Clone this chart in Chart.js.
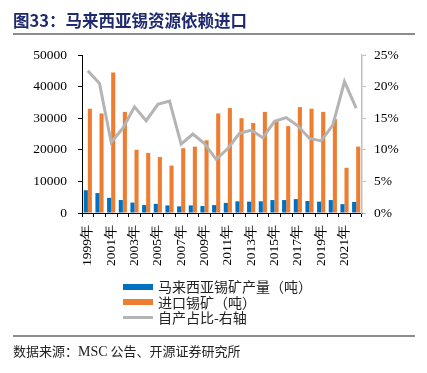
<!DOCTYPE html>
<html>
<head>
<meta charset="utf-8">
<script src="https://cdn.jsdelivr.net/npm/chart.js@4"></script>
<style>
  body { margin: 0; background: #fff; }
  #wrap { position: relative; width: 427px; height: 373px; overflow: hidden; }
  #title { position: absolute; left: 13px; top: 8px; font: bold 16.5px "Noto Sans CJK SC", sans-serif; color: #1f2a6e; white-space: nowrap; }
  .rule { position: absolute; left: 13px; width: 402px; height: 2px; background: #8c8c8c; }
  #legend { position: absolute; left: 123px; top: 279px; font: 14px "Noto Sans CJK SC", sans-serif; color: #222; }
  #legend div { height: 15.5px; line-height: 15.5px; display: flex; align-items: center; white-space: nowrap; }
  #legend span.sw { display: inline-block; width: 30px; margin-right: 5px; }
  #source { position: absolute; left: 13px; top: 341px; font: 13px "Noto Sans CJK SC", "Liberation Serif", sans-serif; color: #222; white-space: nowrap; }
  #source b { font: 14px "Liberation Serif", serif; }
</style>
</head>
<body>
<div id="wrap">
  <canvas id="chart" width="427" height="373"></canvas>
  <div id="title">图33：马来西亚锡资源依赖进口</div>
  <div class="rule" style="top:33px"></div>
  <div id="legend">
    <div><span class="sw" style="height:6px;background:#0070c0"></span>马来西亚锡矿产量（吨）</div>
    <div><span class="sw" style="height:6px;background:#ed7d31"></span>进口锡矿（吨）</div>
    <div><span class="sw" style="height:3px;background:#b4b4b4"></span>自产占比-右轴</div>
  </div>
  <div class="rule" style="top:335px;height:1.5px"></div>
  <div id="source">数据来源：<b>MSC</b> 公告、开源证券研究所</div>
</div>
<script>
const years = ['1999年', '2000年', '2001年', '2002年', '2003年', '2004年', '2005年', '2006年',
  '2007年', '2008年', '2009年', '2010年', '2011年', '2012年', '2013年', '2014年',
  '2015年', '2016年', '2017年', '2018年', '2019年', '2020年', '2021年', '2022年'];
const mineOutput = [7200, 6300, 4800, 4100, 3300, 2500, 2900, 2400, 2100, 2400, 2200, 2500,
  3200, 3700, 3600, 3700, 4100, 4100, 4400, 3800, 3600, 4100, 2800, 3500];
const oreImports = [33000, 31500, 44500, 32000, 20000, 19000, 17700, 15000, 20500, 21000, 23000, 31500,
  33200, 30000, 28500, 32000, 29300, 27500, 33500, 33000, 32000, 29700, 14300, 21000];
const selfShare = [22.5, 20.5, 11.2, 13.4, 16.8, 14.6, 17.2, 17.7, 10.9, 12.5, 11.0, 8.5,
  10.2, 12.6, 13.1, 11.9, 14.5, 15.1, 13.8, 11.8, 11.4, 13.9, 20.8, 16.6];
const leftTicks = [0, 10000, 20000, 30000, 40000, 50000];
const rightTicks = [0, 5, 10, 15, 20, 25];

const tickFont = { family: 'Liberation Serif', size: 13.5 };

new Chart(document.getElementById('chart').getContext('2d'), {
  type: 'bar',
  data: {
    labels: years,
    datasets: [
      {
        type: 'line',
        label: '自产占比-右轴',
        data: selfShare,
        yAxisID: 'y1',
        borderColor: '#b4b4b4',
        borderWidth: 3,
        pointRadius: 0,
        tension: 0,
        order: 0
      },
      {
        label: '马来西亚锡矿产量（吨）',
        data: mineOutput,
        backgroundColor: '#0070c0',
        categoryPercentage: 0.7,
        barPercentage: 1,
        order: 1
      },
      {
        label: '进口锡矿（吨）',
        data: oreImports,
        backgroundColor: '#ed7d31',
        categoryPercentage: 0.7,
        barPercentage: 1,
        order: 1
      }
    ]
  },
  options: {
    responsive: false,
    animation: false,
    layout: { padding: { top: 55, left: 0, right: 0, bottom: 0 } },
    plugins: { legend: { display: false }, tooltip: { enabled: false } },
    scales: {
      x: {
        offset: true,
        grid: { drawOnChartArea: false, tickLength: 4, color: '#000' },
        border: { color: '#000', width: 1 },
        ticks: {
          autoSkip: false,
          maxRotation: 90,
          minRotation: 90,
          padding: 8,
          color: '#000',
          font: tickFont,
          callback: (v, i) => (i % 2 === 0 ? years[i] : '')
        },
        afterFit: s => { s.height = 160; }
      },
      y: {
        position: 'left',
        min: leftTicks[0],
        max: leftTicks[leftTicks.length - 1],
        afterBuildTicks: s => { s.ticks = leftTicks.map(v => ({ value: v })); },
        grid: { drawOnChartArea: false, tickLength: 4, color: '#000' },
        border: { color: '#000', width: 1 },
        ticks: { padding: 11, color: '#000', font: tickFont, callback: v => String(v) },
        afterFit: s => { s.width = 82; }
      },
      y1: {
        position: 'right',
        min: rightTicks[0],
        max: rightTicks[rightTicks.length - 1],
        afterBuildTicks: s => { s.ticks = rightTicks.map(v => ({ value: v })); },
        grid: { drawOnChartArea: false, tickLength: 4, color: '#bfbfbf' },
        border: { color: '#bfbfbf', width: 1.5 },
        ticks: { padding: 8, color: '#000', font: tickFont, callback: v => v + '%' },
        afterFit: s => { s.width = 65; }
      }
    }
  }
});
</script>
</body>
</html>
